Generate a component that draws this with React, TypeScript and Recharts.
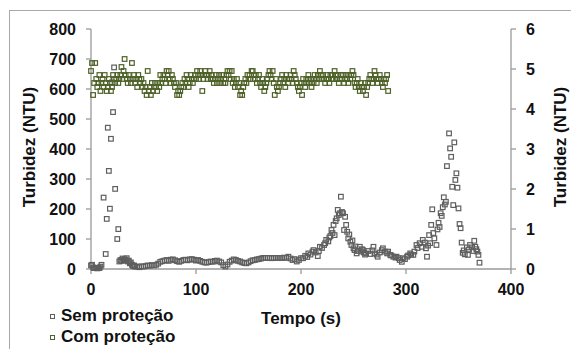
import { ScatterChart, Scatter, XAxis, YAxis, Label } from 'recharts'

// tempo (s), turbidez (NTU) - eixo esquerdo
const semProtecao: [number, number][] = [
  [0, 12], [1, 14], [2, 5], [3, 3], [4, 4], [5, 3], [6, 2], [7, 4], [8, 3], [9, 8], [10, 14],
  [12, 238], [14, 50], [15, 167], [16, 471], [17, 327], [18, 201], [19, 434], [20, 622], [21, 523],
  [22, 672], [23, 267], [25, 100], [26, 133], [27, 25],
  [28, 30], [29, 27], [30, 35], [31, 28], [32, 33], [33, 30], [34, 36], [35, 25], [36, 28], [37, 19],
  [38, 22], [39, 14], [40, 10], [41, 12], [42, 8], [44, 8], [46, 6], [48, 9], [50, 8], [52, 10],
  [54, 12], [56, 11], [58, 13], [60, 12], [62, 14], [64, 18], [66, 24], [68, 26], [70, 28], [72, 30],
  [74, 27], [76, 31], [78, 32], [80, 29], [82, 26], [84, 24], [86, 27], [88, 30], [90, 31], [92, 29],
  [94, 32], [96, 33], [98, 31], [100, 28], [102, 30], [104, 27], [106, 24], [108, 22], [110, 21],
  [112, 23], [114, 25], [116, 24], [118, 27], [120, 28], [122, 25], [124, 22], [126, 13], [128, 8],
  [130, 15], [132, 24], [134, 28], [136, 32], [138, 30], [140, 27], [142, 25], [144, 22], [146, 20],
  [148, 19], [150, 22], [152, 26], [154, 29], [156, 30], [158, 32], [160, 33], [162, 35], [164, 37],
  [166, 37], [168, 37], [170, 37], [172, 36], [174, 37], [176, 37], [178, 37], [180, 37], [182, 37],
  [184, 38], [186, 37], [188, 41], [190, 35], [192, 30], [194, 33], [196, 25], [198, 30], [200, 36],
  [202, 36], [204, 44], [206, 40], [207, 52], [209, 48], [211, 58], [212, 63], [214, 55], [216, 43],
  [217, 60], [218, 74], [220, 70], [222, 80], [223, 86], [224, 97], [226, 92], [227, 105], [228, 110],
  [229, 130], [230, 120], [231, 147], [232, 113], [233, 160], [234, 169], [235, 197], [236, 180],
  [237, 186], [238, 241], [239, 190], [240, 186], [241, 130], [242, 174], [243, 147], [244, 124],
  [245, 102], [246, 115], [247, 91], [248, 80], [249, 95], [250, 69], [251, 63], [252, 75], [253, 52],
  [254, 60], [256, 74], [257, 58], [258, 66], [259, 63], [260, 55], [261, 48], [262, 52], [264, 60],
  [266, 50], [268, 62], [269, 74], [270, 52], [272, 48], [273, 41], [275, 55], [277, 63], [278, 69],
  [280, 58], [282, 52], [283, 58], [285, 47], [286, 45], [288, 41], [290, 38], [291, 41], [293, 36],
  [294, 30], [296, 24], [297, 36], [299, 33], [301, 41], [302, 45], [304, 52], [305, 48], [307, 47],
  [308, 58], [310, 80], [311, 70], [313, 86], [315, 74], [316, 97], [318, 88], [319, 69], [320, 41],
  [321, 78], [322, 113], [323, 86], [324, 147], [325, 199], [326, 120], [327, 102], [329, 80],
  [330, 132], [331, 154], [332, 140], [333, 186], [334, 177], [335, 206], [336, 239], [337, 215],
  [338, 224], [339, 343], [341, 452], [342, 402], [343, 374], [344, 274], [345, 213], [346, 422],
  [347, 297], [348, 319], [349, 271], [350, 202], [351, 150], [352, 136], [353, 88], [354, 54],
  [355, 62], [356, 49], [358, 72], [359, 47], [360, 65], [361, 80], [363, 72], [364, 60], [365, 94],
  [366, 74], [367, 66], [368, 58], [369, 47], [370, 21],
]

// turbidez (NTU) - eixo direito, uma leitura por segundo a partir de 0 s
const comProtecao: number[] = [
  4.95, 5.15, 4.35, 4.65, 5.15, 4.75, 4.55, 4.65, 4.85, 4.45,
  4.65, 4.75, 4.55, 4.85, 4.65, 4.45, 4.55, 4.75, 4.65, 4.45,
  4.55, 4.85, 4.75, 4.65, 4.75, 4.85, 4.65, 4.75, 4.85, 5.05,
  4.75, 4.95, 5.25, 4.85, 4.75, 4.65, 4.85, 4.75, 4.65, 5.15,
  4.75, 4.85, 4.65, 4.75, 4.55, 4.85, 4.75, 4.65, 4.75, 4.55,
  4.65, 4.45, 4.55, 4.35, 4.95, 4.45, 4.55, 4.35, 4.65, 4.45,
  4.55, 4.65, 4.55, 4.45, 4.65, 4.55, 4.85, 4.65, 4.75, 4.85,
  4.75, 4.65, 4.95, 4.85, 4.95, 4.75, 4.65, 4.85, 4.75, 4.65,
  4.55, 4.65, 4.35, 4.45, 4.35, 4.45, 4.55, 4.65, 4.55, 4.75,
  4.65, 4.85, 4.75, 4.55, 4.65, 4.85, 4.75, 4.65, 4.75, 4.85,
  4.75, 4.95, 4.85, 4.75, 4.95, 4.85, 4.45, 4.75, 4.85, 4.95,
  4.85, 4.75, 4.85, 4.95, 4.75, 4.85, 4.75, 4.65, 4.75, 4.85,
  4.65, 4.75, 4.85, 4.65, 4.75, 4.85, 4.65, 4.75, 4.65, 4.85,
  4.95, 4.85, 4.95, 4.75, 4.95, 4.65, 4.75, 4.55, 4.65, 4.75,
  4.55, 4.65, 4.35, 4.45, 4.35, 4.55, 4.65, 4.75, 4.65, 4.85,
  4.75, 4.85, 4.75, 4.95, 4.95, 4.85, 4.75, 4.85, 4.65, 4.75,
  4.85, 4.65, 4.55, 4.75, 4.65, 4.45, 4.55, 4.65, 4.75, 4.85,
  4.95, 4.85, 4.75, 4.95, 4.65, 4.35, 4.75, 4.55, 4.45, 4.55,
  4.65, 4.75, 4.85, 4.65, 4.75, 4.55, 4.85, 4.75, 4.65, 4.75,
  4.85, 4.75, 4.65, 4.95, 4.85, 4.75, 4.65, 4.55, 4.45, 4.55,
  4.65, 4.35, 4.75, 4.65, 4.55, 4.75, 4.65, 4.85, 4.75, 4.65,
  4.55, 4.75, 4.65, 4.85, 4.75, 4.65, 4.85, 4.75, 4.95, 4.85,
  4.75, 4.85, 4.75, 4.65, 4.75, 4.85, 4.75, 4.65, 4.85, 4.75,
  4.85, 4.75, 4.95, 4.85, 4.75, 4.85, 4.65, 4.75, 4.85, 4.75,
  4.85, 4.65, 4.75, 4.85, 4.75, 4.65, 4.85, 4.75, 4.85, 4.95,
  4.85, 4.65, 4.55, 4.65, 4.75, 4.55, 4.45, 4.65, 4.55, 4.45,
  4.55, 4.65, 4.35, 4.55, 4.65, 4.75, 4.85, 4.75, 4.65, 4.75,
  4.95, 4.85, 4.75, 4.65, 4.75, 4.85, 4.75, 4.65, 4.55, 4.75,
  4.65, 4.75, 4.85, 4.45,
]

const tempoTicks = [0, 100, 200, 300, 400]
const turbidezTicks = [0, 100, 200, 300, 400, 500, 600, 700, 800]
const turbidezDirTicks = [0, 1, 2, 3, 4, 5, 6]

const semData = semProtecao.map(([t, v]) => ({ t, v }))
const comData = comProtecao.map((v, i) => ({ t: i, v }))

const FONT = '"Liberation Sans", Arial, sans-serif'
const GRAY = '#5f5f5f'
const GREEN = '#4f6228'
const AXIS = '#9a9a9a'

const square = (color: string) => (props: any) => {
  const { cx, cy } = props
  if (cx == null || cy == null) return <g />
  return <rect x={cx - 2.3} y={cy - 2.3} width={4.6} height={4.6} fill="none" stroke={color} strokeWidth={1.2} />
}

const tickStyle = { fill: '#111', fontSize: 16, fontWeight: 700, fontFamily: FONT }

const yTitle = (x: number) => () => (
  <text
    x={x}
    y={147}
    transform={`rotate(-90, ${x}, 147)`}
    textAnchor="middle"
    dominantBaseline="central"
    fill="#111"
    fontSize={17}
    fontWeight={700}
    fontFamily={FONT}
  >
    Turbidez (NTU)
  </text>
)

export default function App() {
  return (
    <div style={{ position: 'absolute', left: 0, top: 0, width: 571, height: 349, background: '#fff', overflow: 'hidden', fontFamily: FONT }}>
      <div style={{ position: 'absolute', left: 9, top: 10, width: 600, height: 400, borderLeft: '1px solid #a8a8a8', borderTop: '1px solid #a8a8a8' }} />
      <ScatterChart width={571} height={349} margin={{ top: 29, right: 0, bottom: 50, left: 31 }}>
        <XAxis
          type="number"
          dataKey="t"
          domain={[0, 400]}
          ticks={tempoTicks}
          tick={tickStyle}
          tickSize={5}
          tickMargin={10}
          height={30}
          stroke={AXIS}
          strokeWidth={1.3}
        >
          <Label
            content={() => (
              <text x={301} y={318} textAnchor="middle" dominantBaseline="central" fill="#111" fontSize={17} fontWeight={700} fontFamily={FONT}>
                Tempo (s)
              </text>
            )}
          />
        </XAxis>
        <YAxis
          yAxisId="left"
          type="number"
          dataKey="v"
          domain={[0, 800]}
          ticks={turbidezTicks}
          tick={tickStyle}
          tickSize={5}
          tickMargin={10}
          width={60}
          stroke={AXIS}
          strokeWidth={1.3}
        >
          <Label content={yTitle(29)} />
        </YAxis>
        <YAxis
          yAxisId="right"
          orientation="right"
          type="number"
          dataKey="v"
          domain={[0, 6]}
          ticks={turbidezDirTicks}
          tick={tickStyle}
          tickSize={5}
          tickMargin={10}
          width={60}
          stroke={AXIS}
          strokeWidth={1.3}
        >
          <Label content={yTitle(560)} />
        </YAxis>
        <Scatter name="Sem proteção" data={semData} yAxisId="left" shape={square(GRAY)} isAnimationActive={false} />
        <Scatter name="Com proteção" data={comData} yAxisId="right" shape={square(GREEN)} isAnimationActive={false} />
      </ScatterChart>
      {[
        { name: 'Sem proteção', color: GRAY, top: 306 },
        { name: 'Com proteção', color: GREEN, top: 327 },
      ].map((item) => (
        <div key={item.name} style={{ position: 'absolute', left: 50, top: item.top, lineHeight: '20px', display: 'flex', alignItems: 'center', fontSize: 17, fontWeight: 700, color: '#111', whiteSpace: 'nowrap' }}>
          <span style={{ display: 'inline-block', width: 3, height: 3, border: `1.2px solid ${item.color}`, marginRight: 6 }} />
          {item.name}
        </div>
      ))}
    </div>
  )
}
